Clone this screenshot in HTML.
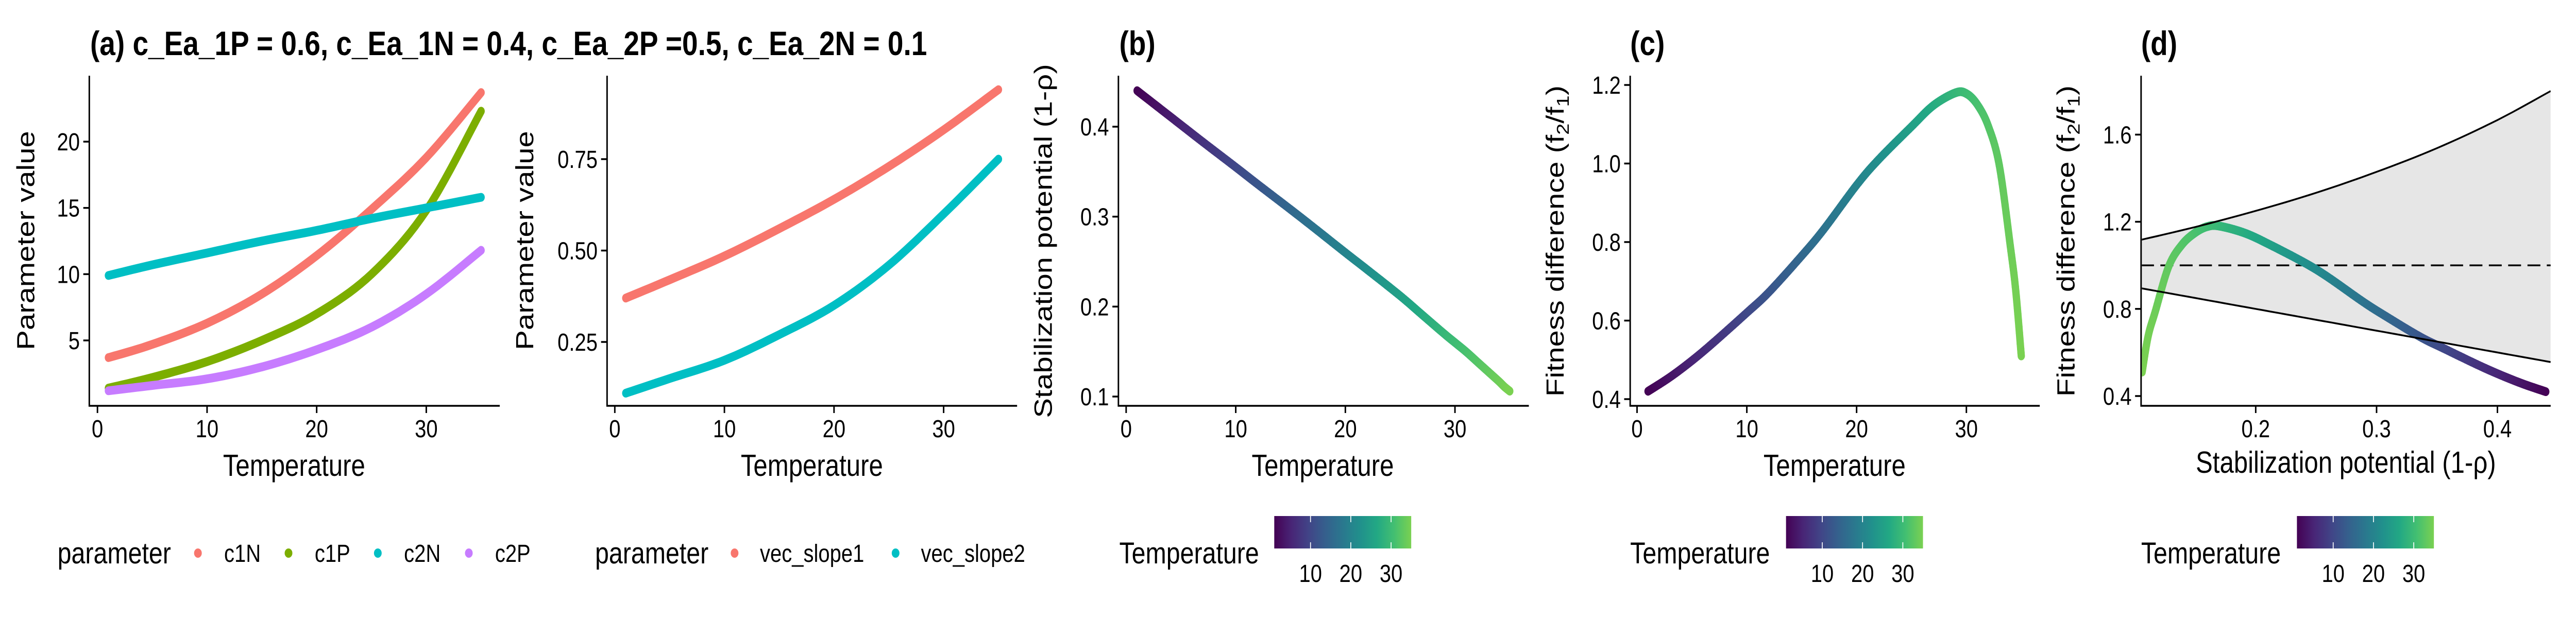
<!DOCTYPE html>
<html><head><meta charset="utf-8"><style>
html,body{margin:0;padding:0;background:#fff;width:6000px;height:1200px;overflow:hidden;}
svg{display:block;position:absolute;left:0;top:0;width:100vw;height:100vh;font-family:"Liberation Sans",Arial,sans-serif;}
</style></head><body>
<svg id="fig" viewBox="0 0 6000 1200" preserveAspectRatio="none" xmlns="http://www.w3.org/2000/svg">
<defs>
<linearGradient id="vir" x1="0" x2="1" y1="0" y2="0">
<stop offset="0" stop-color="#440154"/><stop offset="0.125" stop-color="#482576"/><stop offset="0.25" stop-color="#414487"/><stop offset="0.375" stop-color="#35608D"/><stop offset="0.5" stop-color="#2A788E"/><stop offset="0.625" stop-color="#21908C"/><stop offset="0.75" stop-color="#22A884"/><stop offset="0.875" stop-color="#43BF71"/><stop offset="1" stop-color="#7AD151"/>
</linearGradient>
<clipPath id="clipd"><rect x="4989" y="147" width="952" height="640"/></clipPath>
</defs>
<g id="root"></g>
</svg>
<script>
// ---- data ----
const tempA = [1,5,10,15,20,25,30,35];
const c1N = [3.7,4.7,6.3,8.5,11.4,14.9,18.8,23.7];
const c1P = [1.4,2.2,3.4,5.0,7.0,10.0,14.8,22.3];
const c2N = [9.9,10.7,11.6,12.5,13.3,14.2,15.0,15.8];
const c2P = [1.2,1.6,2.1,3.0,4.3,6.0,8.5,11.8];
const vecSlope1 = [0.37,0.42,0.485,0.56,0.64,0.73,0.83,0.94];
const vecSlope2 = [0.11,0.15,0.20,0.27,0.35,0.46,0.60,0.75];
const tempB = [1,3,5,7,10,12,15,17,20,22,25,27,29,30,31,32,33,34,34.5,35];
const stabPot = [0.440,0.421,0.402,0.383,0.355,0.336,0.308,0.289,0.260,0.241,0.212,0.191,0.170,0.160,0.150,0.139,0.128,0.117,0.111,0.106];
const fitDiff = [0.420,0.456,0.498,0.545,0.620,0.672,0.765,0.832,0.945,1.010,1.094,1.148,1.180,1.178,1.150,1.095,0.995,0.790,0.675,0.510];
const boundX = [0.105,0.15,0.2,0.25,0.3,0.35,0.4,0.444];
const boundUpper = [1.117,1.176,1.25,1.333,1.429,1.538,1.667,1.80];
const boundLower = [0.895,0.85,0.8,0.75,0.7,0.65,0.6,0.556];
const tickTemp = [0,10,20,30];
const tickA1 = [5,10,15,20];
const tickA2 = [0.25,0.50,0.75];
const tickA2Lab = ["0.25","0.50","0.75"];
const tickB = [0.1,0.2,0.3,0.4];
const tickC = [0.4,0.6,0.8,1.0,1.2];
const tickDx = [0.2,0.3,0.4];
const tickDy = [0.4,0.8,1.2,1.6];
const cbTicks = [10,20,30];

const NS="http://www.w3.org/2000/svg";
const root=document.getElementById('root');
function mk(tag,attrs,parent){const e=document.createElementNS(NS,tag);for(const k in attrs)e.setAttribute(k,attrs[k]);(parent||root).appendChild(e);return e;}
function txt(s,x,y,size,anchor,weight,parent){const t=mk('text',{x:x,y:y,'font-size':size,'text-anchor':anchor||'start','font-weight':weight||'normal',fill:'#000'},parent);t.textContent=s;return t;}

const vir=["#440154","#482576","#414487","#35608D","#2A788E","#21908C","#22A884","#43BF71","#7AD151"];
function hex(h){return [parseInt(h.slice(1,3),16),parseInt(h.slice(3,5),16),parseInt(h.slice(5,7),16)];}
function colT(T){let f=(T-1)/34;f=Math.max(0,Math.min(1,f));const p=f*(vir.length-1);const i=Math.min(vir.length-2,Math.floor(p));const u=p-i;const a=hex(vir[i]),b=hex(vir[i+1]);return 'rgb('+a.map((v,k)=>Math.round(v+(b[k]-v)*u)).join(',')+')';}

function smooth(px,py,n){const out=[];for(let i=0;i<px.length-1;i++){const p0=i>0?i-1:i,p3=i+2<px.length?i+2:i+1;for(let s=0;s<n;s++){const t=s/n,t2=t*t,t3=t2*t;const f=(a,b,c,d)=>0.5*((2*b)+(-a+c)*t+(2*a-5*b+4*c-d)*t2+(-a+3*b-3*c+d)*t3);out.push([f(px[p0],px[i],px[i+1],px[p3]),f(py[p0],py[i],py[i+1],py[p3]),i+t]);}}out.push([px[px.length-1],py[py.length-1],px.length-1]);return out;}
function pathD(pts){return pts.map((p,i)=>(i?'L':'M')+p[0].toFixed(1)+','+p[1].toFixed(1)).join('');}

function axes(g,x0,x1,yTop,yBot,xTicks,xLab,xs,yTicks,yLab,ys){
  const ax=mk('line',{x1:x0,y1:yTop,x2:x0,y2:yBot+1.5,stroke:'#000','stroke-width':3.5},g);
  
  const bx=mk('line',{x1:x0-1.5,y1:yBot,x2:x1,y2:yBot,stroke:'#000','stroke-width':3.5},g);
  
  xTicks.forEach((v,i)=>{const X=xs(v);mk('line',{x1:X,y1:yBot,x2:X,y2:yBot+14,stroke:'#000','stroke-width':3.5},g);
    const t=txt(xLab[i],X,849,48,'middle',null,g);});
  yTicks.forEach((v,i)=>{const Y=ys(v);mk('line',{x1:x0-14,y1:Y,x2:x0,y2:Y,stroke:'#000','stroke-width':3.5},g);
    const t=txt(yLab[i],x0-22,Y+17,48,'end',null,g);});
}
function ytitle(g,s,x,y){const t=mk('text',{x:0,y:0,'font-size':58,'text-anchor':'middle',transform:'translate('+x+','+y+') rotate(-90)'},g);t.innerHTML=s;return t;}
function xtitle(g,s,x,y){const t=txt(s,x,y,59,'middle',null,g);}
function line(g,xs,ys,xv,yv,color,name){const pts=smooth(xv.map(xs),yv.map(ys),10);const p=mk('path',{d:pathD(pts),fill:'none',stroke:color,'stroke-width':17,'stroke-linecap':'round','stroke-linejoin':'round'},g);}
function gradLine(g,xs,ys,xv,yv,tv,name){const grp=mk('g',{},g);
  const pts=smooth(xv.map(xs),yv.map(ys),12);const tt=smooth(tv,tv,12);
  for(let i=0;i<pts.length-1;i++){mk('line',{x1:pts[i][0],y1:pts[i][1],x2:pts[i+1][0],y2:pts[i+1][1],stroke:colT(tt[i][1]),'stroke-width':17,'stroke-linecap':'round'},grp);}}
function colorbar(g,titleX,barX){const t=txt('Temperature',titleX,1094,58,'start',null,g);
  const r=mk('rect',{x:barX,y:1002,width:319,height:63,fill:'url(#vir)'},g);
  const cx=v=>barX+(v-1)/34*319;
  cbTicks.forEach(v=>{mk('line',{x1:cx(v),y1:1002,x2:cx(v),y2:1014,stroke:'#fff','stroke-width':2},g);mk('line',{x1:cx(v),y1:1053,x2:cx(v),y2:1065,stroke:'#fff','stroke-width':2},g);
    const l=txt(String(v),cx(v),1130,48,'middle',null,g);});}

const tt=txt('(a) c_Ea_1P = 0.6, c_Ea_1N = 0.4, c_Ea_2P =0.5, c_Ea_2N = 0.1',210,107,66,'start','bold');


{const g=mk('g',{});
 const xs=T=>227+25.53*T, ys=v=>661-(v-5)*25.73;
 axes(g,208,1164,147,788,tickTemp,tickTemp.map(String),xs,tickA1,tickA1.map(String),ys);
 line(g,xs,ys,tempA,c1N,'#F8766D','series-c1N');
 line(g,xs,ys,tempA,c1P,'#7CAE00','series-c1P');
 line(g,xs,ys,tempA,c2N,'#00BFC4','series-c2N');
 line(g,xs,ys,tempA,c2P,'#C77CFF','series-c2P');
 ytitle(g,'Parameter value',80,467); xtitle(g,'Temperature',685,924);
 const lt=txt('parameter',134,1094,58,'start',null,g);
 [['c1N','#F8766D',461],['c1P','#7CAE00',672],['c2N','#00BFC4',880],['c2P','#C77CFF',1092]].forEach(e=>{
   const c=mk('circle',{cx:e[2],cy:1074,r:9,fill:e[1]},g);
   const l=txt(e[0],e[2]+61,1091,48,'start',null,g);});
}
{const g=mk('g',{});
 const xs=T=>1432+25.53*T, ys=v=>664-(v-0.25)*710;
 axes(g,1414,2369,147,788,tickTemp,tickTemp.map(String),xs,tickA2,tickA2Lab,ys);
 line(g,xs,ys,tempA,vecSlope1,'#F8766D','series-vec-slope1');
 line(g,xs,ys,tempA,vecSlope2,'#00BFC4','series-vec-slope2');
 ytitle(g,'Parameter value',1242,467); xtitle(g,'Temperature',1891,924);
 const lt=txt('parameter',1386,1094,58,'start',null,g);
 [['vec_slope1','#F8766D',1711],['vec_slope2','#00BFC4',2086]].forEach(e=>{
   const c=mk('circle',{cx:e[2],cy:1074,r:9,fill:e[1]},g);
   const l=txt(e[0],e[2]+59,1091,48,'start',null,g);});
}
{const g=mk('g',{});
 const xs=T=>2623+25.53*T, ys=v=>770-(v-0.1)*1746.7;
 const t=txt('(b)',2607,107,66,'start','bold',g);
 axes(g,2605,3561,147,788,tickTemp,tickTemp.map(String),xs,tickB,tickB.map(v=>v.toFixed(1)),ys);
 gradLine(g,xs,ys,tempB,stabPot,tempB,'series-stabilization');
 ytitle(g,'Stabilization potential (1-ρ)',2450,468); xtitle(g,'Temperature',3081,924);
 colorbar(g,2607,2968);
}
{const g=mk('g',{});
 const xs=T=>3813+25.57*T, ys=v=>775-(v-0.4)*762.5;
 const t=txt('(c)',3797,107,66,'start','bold',g);
 axes(g,3797,4751,147,788,tickTemp,tickTemp.map(String),xs,tickC,tickC.map(v=>v.toFixed(1)),ys);
 gradLine(g,xs,ys,tempB,fitDiff,tempB,'series-fitness');
 ytitle(g,'Fitness difference (f<tspan font-size="40" dy="12">2</tspan><tspan dy="-12">/f</tspan><tspan font-size="40" dy="12">1</tspan><tspan dy="-12">)</tspan>',3642,468); xtitle(g,'Temperature',4273,924);
 colorbar(g,3797,4160);
}
{const g=mk('g',{});
 const xs=s=>5254+(s-0.2)*2815, ys=v=>769-(v-0.4)*423;
 const t=txt('(d)',4987,107,66,'start','bold',g);
 const cg=mk('g',{'clip-path':'url(#clipd)'},g);
 const up=smooth(boundX.map(xs),boundUpper.map(ys),8), lo=smooth(boundX.map(xs),boundLower.map(ys),8);
 const rib=mk('path',{d:pathD(up)+lo.slice().reverse().map(p=>'L'+p[0].toFixed(1)+','+p[1].toFixed(1)).join('')+'Z',fill:'#e6e6e6'},cg);
 
 const dl=mk('line',{x1:4987,y1:ys(1),x2:5941,y2:ys(1),stroke:'#000','stroke-width':3.5,'stroke-dasharray':'30 15'},cg);
 
 gradLine(cg,xs,ys,stabPot,fitDiff,tempB,'series-fitness-vs-stabilization');
 const ul=mk('path',{d:pathD(up),fill:'none',stroke:'#000','stroke-width':3.5},cg);
 const ll=mk('path',{d:pathD(lo),fill:'none',stroke:'#000','stroke-width':3.5},cg);
 axes(g,4987,5941,147,788,tickDx,tickDx.map(v=>v.toFixed(1)),xs,tickDy,tickDy.map(v=>v.toFixed(1)),ys);
 ytitle(g,'Fitness difference (f<tspan font-size="40" dy="12">2</tspan><tspan dy="-12">/f</tspan><tspan font-size="40" dy="12">1</tspan><tspan dy="-12">)</tspan>',4832,468);
 xtitle(g,'Stabilization potential (1-ρ)',5464,918);
 colorbar(g,4987,5350);
}
</script>
</body></html>
